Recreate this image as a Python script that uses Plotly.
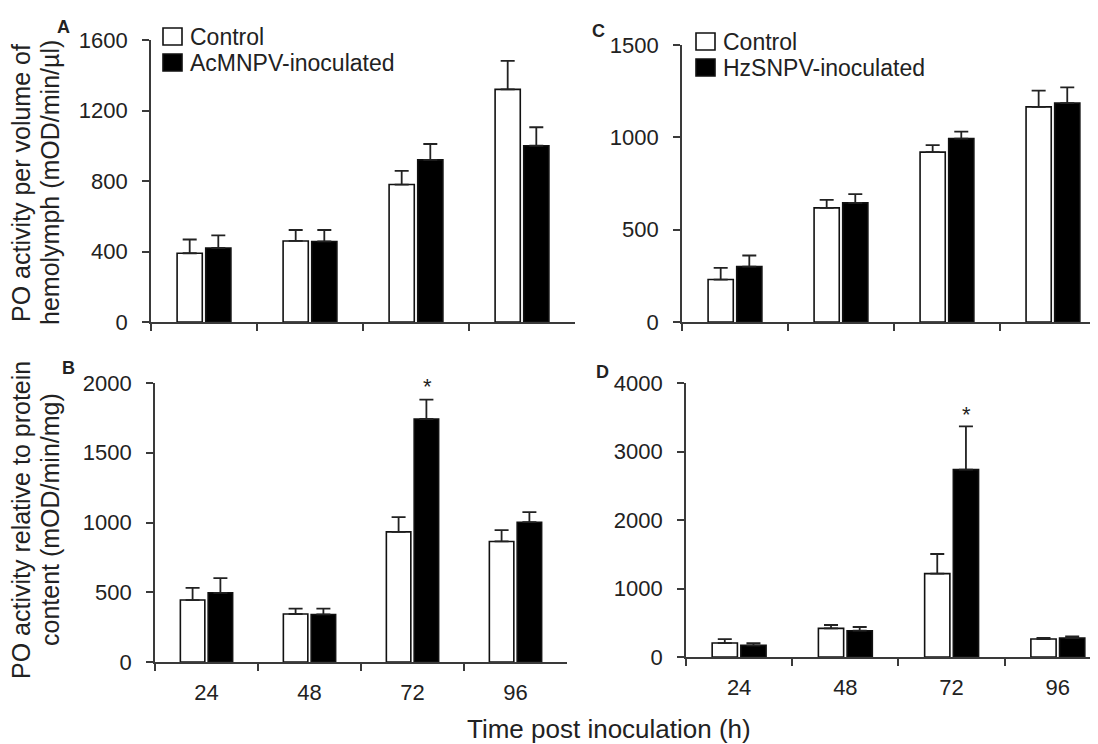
import plotly.graph_objects as go

# ---------------- data ----------------
times = ["24", "48", "72", "96"]

A_control = [390, 460, 780, 1320]
A_control_err = [78, 62, 78, 162]
A_inoc = [420, 457, 920, 1000]
A_inoc_err = [72, 65, 90, 105]

B_control = [444, 344, 933, 864]
B_control_err = [88, 38, 105, 81]
B_inoc = [496, 341, 1742, 1002]
B_inoc_err = [105, 41, 139, 72]

C_control = [230, 618, 920, 1165]
C_control_err = [63, 43, 38, 88]
C_inoc = [300, 645, 993, 1185]
C_inoc_err = [60, 48, 38, 85]

D_control = [204, 418, 1217, 263]
D_control_err = [58, 49, 287, 15]
D_inoc = [170, 384, 2735, 277]
D_inoc_err = [34, 54, 632, 25]

A_ticks = [0, 400, 800, 1200, 1600]
B_ticks = [0, 500, 1000, 1500, 2000]
C_ticks = [0, 500, 1000, 1500]
D_ticks = [0, 1000, 2000, 3000, 4000]

# ---------------- figure ----------------
OFF = 8                      # page body margin offset
W, H = 1098 - OFF, 744 - OFF
FONT = "Arial, Liberation Sans, Helvetica, sans-serif"
TXT = "#222222"
AX = "#3a3a3a"

def px_x(p):
    return (p - OFF) / W

def px_y(p):
    return 1 - (p - OFF) / H

fig = go.Figure()

def add_pair(ctrl, ctrl_err, inoc, inoc_err, xa, ya):
    zeros = [0] * len(ctrl)
    fig.add_trace(go.Bar(
        x=times, y=ctrl, xaxis=xa, yaxis=ya, showlegend=False,
        marker=dict(color="white", line=dict(color="#111111", width=1.6)),
        error_y=dict(type="data", symmetric=False, array=ctrl_err, arrayminus=zeros,
                     color="#222222", thickness=1.8, width=7),
    ))
    fig.add_trace(go.Bar(
        x=times, y=inoc, xaxis=xa, yaxis=ya, showlegend=False,
        marker=dict(color="black", line=dict(color="#111111", width=1.6)),
        error_y=dict(type="data", symmetric=False, array=inoc_err, arrayminus=zeros,
                     color="#222222", thickness=1.8, width=7),
    ))

add_pair(A_control, A_control_err, A_inoc, A_inoc_err, "x", "y")
add_pair(B_control, B_control_err, B_inoc, B_inoc_err, "x2", "y2")
add_pair(C_control, C_control_err, C_inoc, C_inoc_err, "x3", "y3")
add_pair(D_control, D_control_err, D_inoc, D_inoc_err, "x4", "y4")

def xaxis(domain, anchor, rng, labels):
    return dict(
        domain=domain, anchor=anchor, type="category", range=rng, automargin=False,
        showline=True, linecolor=AX, linewidth=1.6,
        ticks="outside", tickson="boundaries", ticklen=7, tickwidth=1.6, tickcolor=AX,
        showticklabels=labels, tickfont=dict(family=FONT, size=22, color=TXT),
        ticklabelstandoff=10, showgrid=False, zeroline=False, fixedrange=True,
    )

def yaxis(domain, anchor, rng, tv):
    return dict(
        domain=domain, anchor=anchor, range=rng, tickvals=tv, automargin=False,
        showline=True, linecolor=AX, linewidth=1.6,
        ticks="outside", ticklen=7, tickwidth=1.6, tickcolor=AX,
        tickfont=dict(family=FONT, size=22, color=TXT), ticklabelstandoff=10,
        showgrid=False, zeroline=False, fixedrange=True,
    )

yA = [px_y(322), px_y(40)]
yC = [px_y(322), px_y(45)]
yB = [px_y(662), px_y(383)]
yD = [px_y(657), px_y(383)]

fig.update_layout(
    template="none",
    width=W, height=H, autosize=False,
    margin=dict(l=0, r=0, t=0, b=0, pad=0),
    paper_bgcolor="white", plot_bgcolor="white",
    barmode="group", bargap=0.46, bargroupgap=0.12,
    font=dict(family=FONT, color=TXT),
    xaxis=xaxis([px_x(151), px_x(575)], "y", [-0.5, 3.5], False),
    yaxis=yaxis(yA, "x", [0, 1600], A_ticks),
    xaxis2=xaxis([px_x(155), px_x(567)], "y2", [-0.5, 3.5], True),
    yaxis2=yaxis(yB, "x2", [0, 2000], B_ticks),
    xaxis3=xaxis([px_x(682), 1.0], "y3", [-0.5, 3.425], False),
    yaxis3=yaxis(yC, "x3", [0, 1500], C_ticks),
    xaxis4=xaxis([px_x(686), 1.0], "y4", [-0.5, 3.378], True),
    yaxis4=yaxis(yD, "x4", [0, 4000], D_ticks),
)

annotations = []
shapes = []

# panel letters
for letter, (cx, cy) in {"A": (63, 27), "B": (68, 368), "C": (599, 31), "D": (602, 372)}.items():
    annotations.append(dict(text=f"<b>{letter}</b>", x=px_x(cx), y=px_y(cy), xref="paper", yref="paper",
                            xanchor="center", yanchor="middle", showarrow=False,
                            font=dict(family=FONT, size=18, color=TXT)))

# y titles (one annotation per line)
def ytitle(lines, cy):
    for lx, txt in zip([21, 50], lines):
        annotations.append(dict(text=txt, x=px_x(lx), y=px_y(cy), xref="paper", yref="paper",
                                textangle=-90, xanchor="center", yanchor="middle", showarrow=False,
                                font=dict(family=FONT, size=25, color=TXT)))

ytitle(["PO activity per volume of", "hemolymph (mOD/min/µl)"], 183)
ytitle(["PO activity relative to protein", "content (mOD/min/mg)"], 520)

# x title
annotations.append(dict(text="Time post inoculation (h)", x=px_x(609), y=px_y(729),
                        xref="paper", yref="paper", xanchor="center", yanchor="middle",
                        showarrow=False, font=dict(family=FONT, size=26, color=TXT)))

# significance asterisks (above the inoculated bar at 72 h, category index 2)
annotations.append(dict(text="*", x=2, y=1975, xref="x2", yref="y2", xshift=15,
                        xanchor="center", yanchor="middle", showarrow=False,
                        font=dict(family=FONT, size=22, color=TXT)))
annotations.append(dict(text="*", x=2, y=3540, xref="x4", yref="y4", xshift=15,
                        xanchor="center", yanchor="middle", showarrow=False,
                        font=dict(family=FONT, size=22, color=TXT)))

# legends (manual)
def legend(x0, y_top, labels):
    fills = ["white", "black"]
    for i, lab in enumerate(labels):
        top = y_top + i * 26
        shapes.append(dict(type="rect", xref="paper", yref="paper",
                           x0=px_x(x0), x1=px_x(x0 + 19), y0=px_y(top + 17), y1=px_y(top),
                           fillcolor=fills[i], line=dict(color="#111111", width=1.6)))
        annotations.append(dict(text=lab, x=px_x(x0 + 25), y=px_y(top + 9),
                                xref="paper", yref="paper", xanchor="left", yanchor="middle",
                                showarrow=False, font=dict(family=FONT, size=23, color=TXT)))

legend(163, 28, ["Control", "AcMNPV-inoculated"])
legend(696, 33, ["Control", "HzSNPV-inoculated"])

fig.update_layout(annotations=annotations, shapes=shapes)

fig.write_html("out.html")
